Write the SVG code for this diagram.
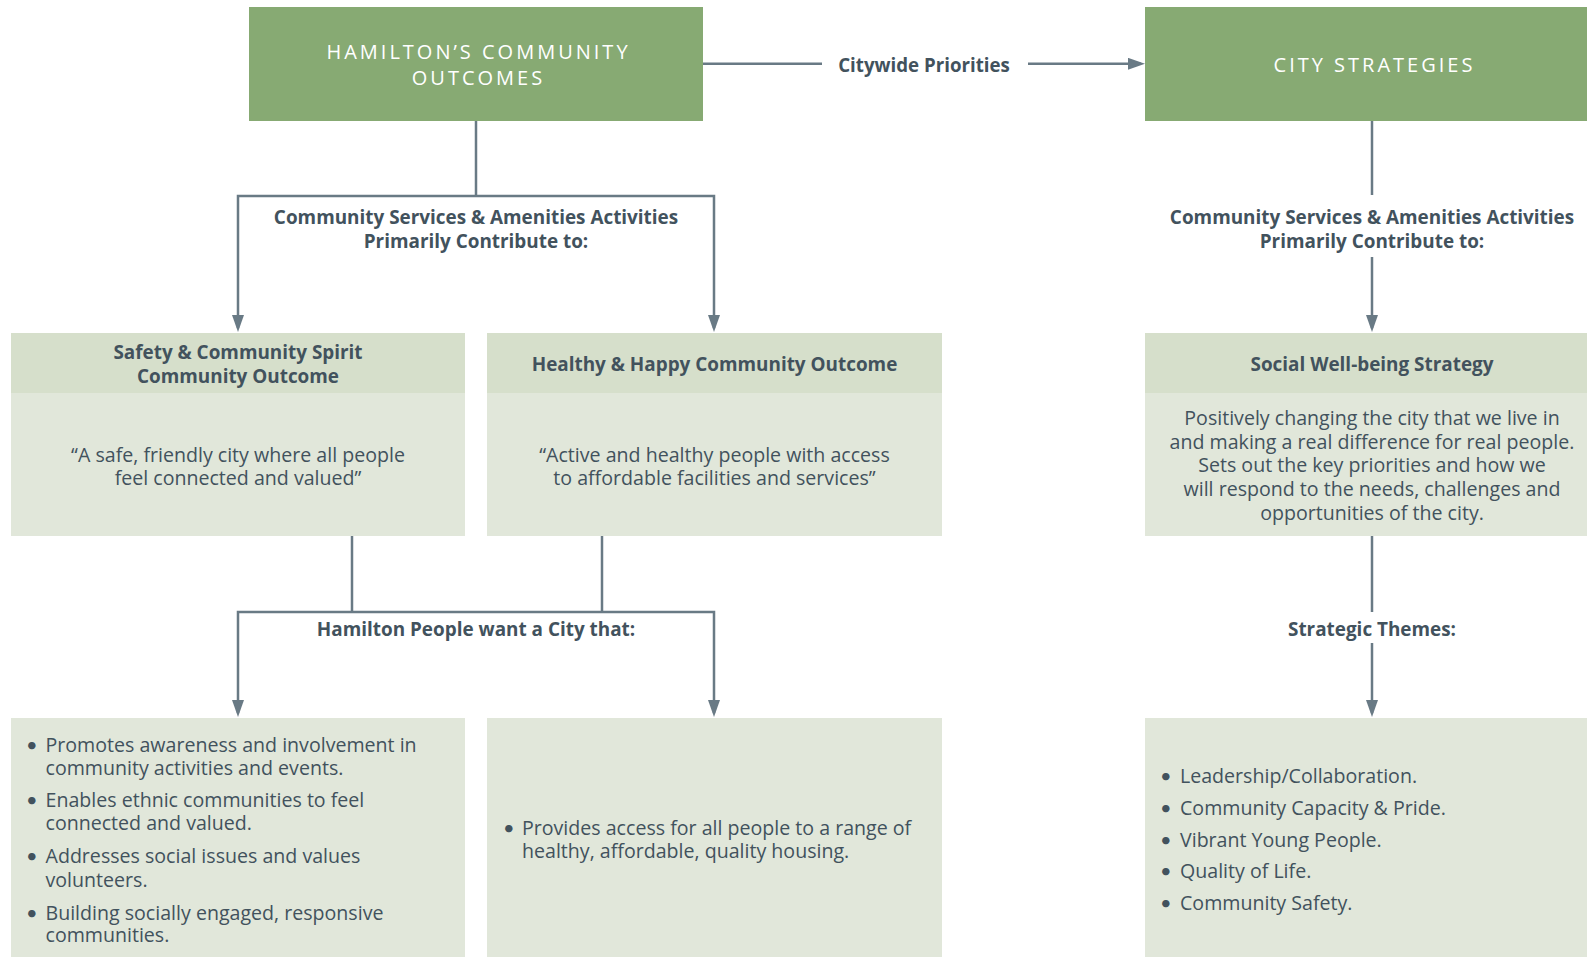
<svg xmlns="http://www.w3.org/2000/svg" width="1587" height="957" viewBox="0 0 1587 957">
<style>
.t{font-family:"Open Sans",Lato,"Liberation Sans",sans-serif;fill:#42525d;font-size:19.6px}
.b{font-weight:700;font-size:18.9px}
.c{text-anchor:middle}
.bu{font-family:Lato,"Open Sans",sans-serif;font-size:20px;fill:#42525d}
.hd{fill:#ffffff;letter-spacing:3px;font-size:20px;text-anchor:middle}
.green{fill:#87aa73}
.hdr{fill:#d6dfcb}
.bd{fill:#e1e7da}
.conn{stroke:#697a85;stroke-width:2.5;fill:none}
</style>
<defs>
<marker id="arr" viewBox="0 0 17 12" refX="13" refY="6" markerWidth="17" markerHeight="12" markerUnits="userSpaceOnUse" orient="auto">
<path d="M0,0 L17,6 L0,12 z" fill="#697a85"/>
</marker>
</defs>
<rect width="1587" height="957" fill="#ffffff"/>

<g id="connectors">
<path class="conn" d="M703,63.8 H822"/>
<path class="conn" d="M1028,63.8 H1141" marker-end="url(#arr)"/>
<path class="conn" d="M476,121 V196"/>
<path class="conn" d="M476,196 H238 V328" marker-end="url(#arr)"/>
<path class="conn" d="M476,196 H714 V328" marker-end="url(#arr)"/>
<path class="conn" d="M1372,121 V195"/>
<path class="conn" d="M1372,257 V328" marker-end="url(#arr)"/>
<path class="conn" d="M352,536 V612"/>
<path class="conn" d="M602,536 V612"/>
<path class="conn" d="M352,612 H238 V713" marker-end="url(#arr)"/>
<path class="conn" d="M352,612 H714 V713" marker-end="url(#arr)"/>
<path class="conn" d="M1372,536 V612"/>
<path class="conn" d="M1372,643 V713" marker-end="url(#arr)"/>
<text class="t b c" x="924" y="71.5" style="font-size:18.7px">Citywide Priorities</text>
<text class="t b c" x="476" y="223.5">Community Services &amp; Amenities Activities<tspan x="476" dy="24">Primarily Contribute to:</tspan></text>
<text class="t b c" x="1372" y="223.5">Community Services &amp; Amenities Activities<tspan x="1372" dy="24">Primarily Contribute to:</tspan></text>
<text class="t b c" x="476" y="636">Hamilton People want a City that:</text>
<text class="t b c" x="1372" y="636">Strategic Themes:</text>
</g>

<g id="hamilton-outcomes">
<rect class="green" x="249" y="7" width="454" height="114"/>
<text class="t hd" x="478.5" y="59.3">HAMILTON’S COMMUNITY<tspan x="478.5" dy="25.7">OUTCOMES</tspan></text>
</g>

<g id="city-strategies">
<rect class="green" x="1145" y="7" width="442" height="114"/>
<text class="t hd" x="1374.5" y="71.7">CITY STRATEGIES</text>
</g>

<g id="safety-outcome">
<rect class="hdr" x="11" y="333" width="454" height="60"/>
<rect class="bd" x="11" y="393" width="454" height="143"/>
<text class="t b c" x="238" y="359.3">Safety &amp; Community Spirit<tspan x="238" dy="24">Community Outcome</tspan></text>
<text class="t c" x="238" y="461.7">“A safe, friendly city where all people<tspan x="238" dy="22.8">feel connected and valued”</tspan></text>
</g>

<g id="healthy-outcome">
<rect class="hdr" x="487" y="333" width="455" height="60"/>
<rect class="bd" x="487" y="393" width="455" height="143"/>
<text class="t b c" x="714.5" y="370.7">Healthy &amp; Happy Community Outcome</text>
<text class="t c" x="714.5" y="461.7">“Active and healthy people with access<tspan x="714.5" dy="22.8">to affordable facilities and services”</tspan></text>
</g>

<g id="social-strategy">
<rect class="hdr" x="1145" y="333" width="442" height="60"/>
<rect class="bd" x="1145" y="393" width="442" height="143"/>
<text class="t b c" x="1372" y="370.7">Social Well-being Strategy</text>
<text class="t c" x="1372" y="425">Positively changing the city that we live in<tspan x="1372" dy="23.5">and making a real difference for real people.</tspan><tspan x="1372" dy="23.5">Sets out the key priorities and how we</tspan><tspan x="1372" dy="23.5">will respond to the needs, challenges and</tspan><tspan x="1372" dy="24">opportunities of the city.</tspan></text>
</g>

<g id="safety-list">
<rect class="bd" x="11" y="718" width="454" height="239"/>
<text class="bu" x="26" y="751.7">•</text>
<text class="t" x="45.5" y="751.7">Promotes awareness and involvement in<tspan x="45.5" dy="23.3">community activities and events.</tspan></text>
<text class="bu" x="26" y="806.7">•</text>
<text class="t" x="45.5" y="806.7">Enables ethnic communities to feel<tspan x="45.5" dy="23.3">connected and valued.</tspan></text>
<text class="bu" x="26" y="863.3">•</text>
<text class="t" x="45.5" y="863.3">Addresses social issues and values<tspan x="45.5" dy="23.4">volunteers.</tspan></text>
<text class="bu" x="26" y="919.5">•</text>
<text class="t" x="45.5" y="919.5">Building socially engaged, responsive<tspan x="45.5" dy="22.5">communities.</tspan></text>
</g>

<g id="healthy-list">
<rect class="bd" x="487" y="718" width="455" height="239"/>
<text class="bu" x="503" y="835">•</text>
<text class="t" x="522" y="835">Provides access for all people to a range of<tspan x="522" dy="23.3">healthy, affordable, quality housing.</tspan></text>
</g>

<g id="strategic-themes">
<rect class="bd" x="1145" y="718" width="442" height="239"/>
<text class="bu" x="1160" y="783.3">•</text><text class="t" x="1180" y="783.3">Leadership/Collaboration.</text>
<text class="bu" x="1160" y="815">•</text><text class="t" x="1180" y="815">Community Capacity &amp; Pride.</text>
<text class="bu" x="1160" y="846.7">•</text><text class="t" x="1180" y="846.7">Vibrant Young People.</text>
<text class="bu" x="1160" y="878.3">•</text><text class="t" x="1180" y="878.3">Quality of Life.</text>
<text class="bu" x="1160" y="910">•</text><text class="t" x="1180" y="910">Community Safety.</text>
</g>
</svg>
